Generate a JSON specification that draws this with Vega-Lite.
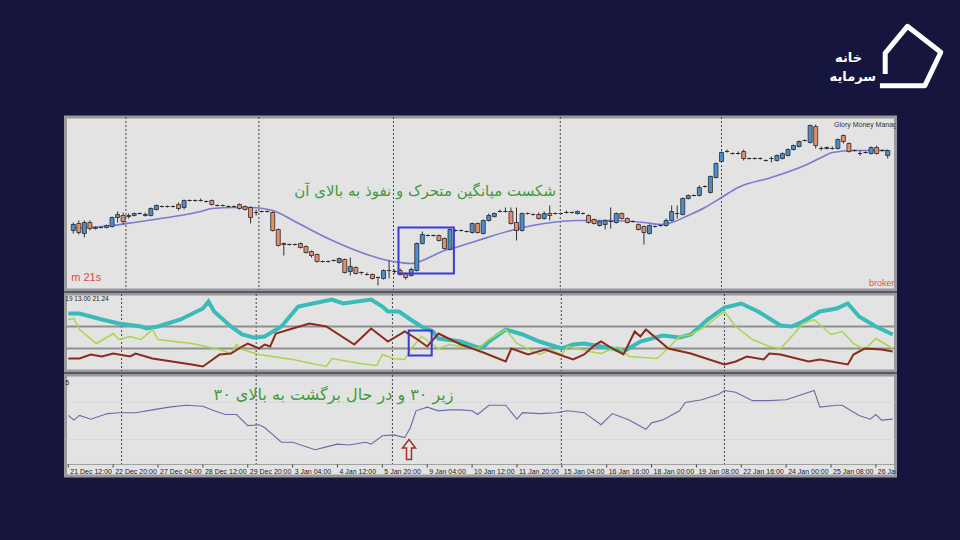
{
  "$schema": "https://vega.github.io/schema/vega-lite/v6.json",
  "background": "#15153d",
  "padding": {"left": 63.5, "top": 20, "right": 40, "bottom": 80},
  "config": {"view": {"stroke": null}},
  "datasets": {
    "candles": [
      {"i":0,"o":60,"c":66,"h":68,"l":57},{"i":1,"o":67,"c":58,"h":70,"l":56},{"i":2,"o":57,"c":68,"h":70,"l":53},{"i":3,"o":68,"c":62,"h":70,"l":60},
      {"i":4,"o":63,"c":62,"h":64,"l":61},{"i":5,"o":63,"c":63,"h":64,"l":62},{"i":6,"o":63,"c":65,"h":66,"l":62},{"i":7,"o":64,"c":73,"h":74,"l":63},
      {"i":8,"o":73,"c":76,"h":79,"l":68},{"i":9,"o":75,"c":69,"h":78,"l":66},{"i":10,"o":74,"c":75,"h":77,"l":72},{"i":11,"o":75,"c":77,"h":78,"l":74},
      {"i":12,"o":77,"c":77,"h":78,"l":76},{"i":13,"o":75,"c":76,"h":78,"l":74},{"i":14,"o":75,"c":82,"h":83,"l":74},{"i":15,"o":81,"c":85,"h":86,"l":80},
      {"i":16,"o":84,"c":84,"h":85,"l":83},{"i":17,"o":84,"c":84,"h":85,"l":83},{"i":18,"o":84,"c":84,"h":85,"l":83},{"i":19,"o":86,"c":82,"h":88,"l":80},
      {"i":20,"o":83,"c":90,"h":91,"l":81},{"i":21,"o":90,"c":90,"h":91,"l":89},{"i":22,"o":90,"c":90,"h":91,"l":89},{"i":23,"o":90,"c":90,"h":92,"l":89},
      {"i":24,"o":89,"c":89,"h":90,"l":88},{"i":25,"o":90,"c":86,"h":91,"l":85},{"i":26,"o":85,"c":85,"h":86,"l":84},{"i":27,"o":85,"c":85,"h":86,"l":84},
      {"i":28,"o":84,"c":84,"h":85,"l":83},{"i":29,"o":84,"c":84,"h":85,"l":83},{"i":30,"o":86,"c":82,"h":87,"l":81},{"i":31,"o":84,"c":81,"h":85,"l":80},
      {"i":32,"o":83,"c":73,"h":84,"l":67},{"i":33,"o":78,"c":78,"h":81,"l":75},{"i":34,"o":79,"c":79,"h":80,"l":78},{"i":35,"o":79,"c":79,"h":80,"l":78},
      {"i":36,"o":78,"c":60,"h":79,"l":59},{"i":37,"o":61,"c":45,"h":62,"l":44},{"i":38,"o":47,"c":46,"h":48,"l":35},{"i":39,"o":46,"c":46,"h":47,"l":45},
      {"i":40,"o":46,"c":46,"h":47,"l":45},{"i":41,"o":47,"c":43,"h":48,"l":42},{"i":42,"o":44,"c":38,"h":45,"l":37},{"i":43,"o":39,"c":35,"h":40,"l":33},
      {"i":44,"o":36,"c":29,"h":37,"l":28},{"i":45,"o":29,"c":29,"h":30,"l":28},{"i":46,"o":29,"c":29,"h":30,"l":28},{"i":47,"o":30,"c":30,"h":31,"l":29},
      {"i":48,"o":28,"c":32,"h":33,"l":27},{"i":49,"o":31,"c":18,"h":32,"l":17},{"i":50,"o":19,"c":24,"h":33,"l":15},{"i":51,"o":23,"c":17,"h":24,"l":16},
      {"i":52,"o":18,"c":18,"h":19,"l":16},{"i":53,"o":16,"c":16,"h":18,"l":15},{"i":54,"o":16,"c":12,"h":17,"l":11},{"i":55,"o":13,"c":13,"h":14,"l":5},
      {"i":56,"o":12,"c":20,"h":21,"l":11},{"i":57,"o":20,"c":20,"h":30,"l":12},{"i":58,"o":19,"c":19,"h":21,"l":17},{"i":59,"o":20,"c":16,"h":22,"l":15},
      {"i":60,"o":17,"c":13,"h":18,"l":11},{"i":61,"o":15,"c":21,"h":23,"l":14},{"i":62,"o":20,"c":47,"h":48,"l":19},{"i":63,"o":47,"c":56,"h":59,"l":46},
      {"i":64,"o":55,"c":55,"h":56,"l":54},{"i":65,"o":55,"c":55,"h":56,"l":54},{"i":66,"o":55,"c":50,"h":56,"l":49},{"i":67,"o":52,"c":42,"h":53,"l":41},
      {"i":68,"o":41,"c":61,"h":62,"l":40},{"i":69,"o":60,"c":60,"h":61,"l":59},{"i":70,"o":60,"c":60,"h":61,"l":59},{"i":71,"o":59,"c":59,"h":60,"l":58},
      {"i":72,"o":58,"c":67,"h":68,"l":57},{"i":73,"o":67,"c":58,"h":68,"l":57},{"i":74,"o":57,"c":70,"h":71,"l":56},{"i":75,"o":70,"c":75,"h":77,"l":69},
      {"i":76,"o":74,"c":77,"h":78,"l":73},{"i":77,"o":79,"c":79,"h":81,"l":78},{"i":78,"o":79,"c":79,"h":83,"l":78},{"i":79,"o":79,"c":67,"h":83,"l":66},
      {"i":80,"o":68,"c":60,"h":83,"l":50},{"i":81,"o":60,"c":77,"h":78,"l":59},{"i":82,"o":77,"c":77,"h":78,"l":76},{"i":83,"o":76,"c":76,"h":77,"l":75},
      {"i":84,"o":76,"c":72,"h":78,"l":71},{"i":85,"o":72,"c":77,"h":79,"l":71},{"i":86,"o":77,"c":75,"h":85,"l":70},{"i":87,"o":77,"c":77,"h":78,"l":76},
      {"i":88,"o":77,"c":77,"h":78,"l":76},{"i":89,"o":78,"c":78,"h":80,"l":77},{"i":90,"o":78,"c":78,"h":79,"l":77},{"i":91,"o":77,"c":79,"h":80,"l":76},
      {"i":92,"o":77,"c":77,"h":78,"l":76},{"i":93,"o":75,"c":68,"h":76,"l":67},{"i":94,"o":71,"c":67,"h":72,"l":66},{"i":95,"o":65,"c":69,"h":70,"l":64},
      {"i":96,"o":66,"c":70,"h":71,"l":61},{"i":97,"o":69,"c":69,"h":83,"l":62},{"i":98,"o":68,"c":77,"h":78,"l":67},{"i":99,"o":77,"c":72,"h":78,"l":71},
      {"i":100,"o":72,"c":68,"h":73,"l":67},{"i":101,"o":69,"c":69,"h":70,"l":68},{"i":102,"o":66,"c":61,"h":67,"l":60},{"i":103,"o":64,"c":58,"h":65,"l":46},
      {"i":104,"o":57,"c":65,"h":66,"l":56},{"i":105,"o":64,"c":64,"h":65,"l":63},{"i":106,"o":65,"c":65,"h":66,"l":64},{"i":107,"o":65,"c":70,"h":72,"l":64},
      {"i":108,"o":70,"c":79,"h":85,"l":69},{"i":109,"o":77,"c":77,"h":85,"l":72},{"i":110,"o":76,"c":92,"h":93,"l":75},{"i":111,"o":92,"c":95,"h":96,"l":91},
      {"i":112,"o":95,"c":95,"h":96,"l":94},{"i":113,"o":95,"c":103,"h":105,"l":94},{"i":114,"o":104,"c":104,"h":105,"l":103},{"i":115,"o":98,"c":114,"h":115,"l":97},
      {"i":116,"o":113,"c":127,"h":128,"l":112},{"i":117,"o":129,"c":138,"h":139,"l":128},{"i":118,"o":139,"c":139,"h":141,"l":138},{"i":119,"o":137,"c":137,"h":138,"l":136},
      {"i":120,"o":137,"c":137,"h":139,"l":136},{"i":121,"o":139,"c":132,"h":141,"l":130},{"i":122,"o":132,"c":132,"h":133,"l":131},{"i":123,"o":132,"c":132,"h":133,"l":131},
      {"i":124,"o":132,"c":132,"h":133,"l":131},{"i":125,"o":130,"c":130,"h":131,"l":129},{"i":126,"o":132,"c":132,"h":134,"l":128},{"i":127,"o":130,"c":135,"h":136,"l":129},
      {"i":128,"o":132,"c":137,"h":138,"l":131},{"i":129,"o":135,"c":141,"h":142,"l":134},{"i":130,"o":141,"c":145,"h":146,"l":140},{"i":131,"o":144,"c":149,"h":150,"l":143},
      {"i":132,"o":150,"c":150,"h":151,"l":149},{"i":133,"o":148,"c":165,"h":166,"l":147},{"i":134,"o":164,"c":145,"h":166,"l":142},{"i":135,"o":142,"c":142,"h":144,"l":140},
      {"i":136,"o":142,"c":143,"h":144,"l":141},{"i":137,"o":142,"c":142,"h":144,"l":141},{"i":138,"o":142,"c":151,"h":152,"l":141},{"i":139,"o":155,"c":149,"h":156,"l":147},
      {"i":140,"o":147,"c":139,"h":148,"l":138},{"i":141,"o":140,"c":140,"h":141,"l":139},{"i":142,"o":137,"c":137,"h":140,"l":135},{"i":143,"o":138,"c":138,"h":139,"l":137},
      {"i":144,"o":137,"c":143,"h":144,"l":136},{"i":145,"o":143,"c":137,"h":145,"l":136},{"i":146,"o":140,"c":140,"h":141,"l":139},{"i":147,"o":135,"c":140,"h":141,"l":132}
    ],
    "ma": [
      {"i":0,"v":62},{"i":7,"v":65},{"i":11,"v":68},{"i":17,"v":73},{"i":23,"v":79},{"i":25,"v":82},{"i":29,"v":83},{"i":32,"v":83},{"i":36,"v":80},
      {"i":40,"v":69},{"i":46,"v":52},{"i":52,"v":38},{"i":56,"v":31},{"i":59,"v":28},{"i":61,"v":27},{"i":63,"v":30},{"i":65,"v":35},{"i":67,"v":40},
      {"i":69,"v":43},{"i":73,"v":50},{"i":79,"v":60},{"i":85,"v":67},{"i":91,"v":70},{"i":97,"v":70},{"i":103,"v":68},{"i":106,"v":66},{"i":108,"v":68},
      {"i":111,"v":75},{"i":114,"v":83},{"i":117,"v":93},{"i":120,"v":103},{"i":126,"v":113},{"i":132,"v":125},{"i":135,"v":133},{"i":137,"v":138},
      {"i":141,"v":140},{"i":147,"v":140}
    ],
    "teal": [
      {"i":0,"v":58},{"i":2,"v":58},{"i":6,"v":52},{"i":9,"v":48},{"i":13,"v":45},{"i":14,"v":43},{"i":16,"v":45},{"i":20,"v":52},{"i":24,"v":63},
      {"i":25,"v":70},{"i":26,"v":60},{"i":29,"v":45},{"i":31,"v":37},{"i":33,"v":34},{"i":35,"v":35},{"i":38,"v":45},{"i":41,"v":65},{"i":47,"v":72},
      {"i":49,"v":68},{"i":54,"v":72},{"i":56,"v":65},{"i":57,"v":60},{"i":59,"v":60},{"i":61,"v":52},{"i":63,"v":45},{"i":65,"v":40},{"i":66,"v":33},
      {"i":70,"v":30},{"i":73,"v":24},{"i":74,"v":24},{"i":75,"v":30},{"i":78,"v":42},{"i":81,"v":37},{"i":84,"v":30},{"i":88,"v":23},{"i":90,"v":27},
      {"i":92,"v":28},{"i":95,"v":25},{"i":97,"v":23},{"i":99,"v":20},{"i":102,"v":30},{"i":106,"v":36},{"i":109,"v":34},{"i":111,"v":37},{"i":114,"v":52},
      {"i":117,"v":64},{"i":120,"v":68},{"i":123,"v":60},{"i":127,"v":46},{"i":129,"v":45},{"i":131,"v":50},{"i":134,"v":60},{"i":137,"v":63},{"i":139,"v":68},
      {"i":141,"v":55},{"i":144,"v":45},{"i":147,"v":37}
    ],
    "green": [
      {"i":0,"v":52},{"i":1,"v":53},{"i":2,"v":42},{"i":5,"v":28},{"i":8,"v":38},{"i":9,"v":32},{"i":11,"v":35},{"i":13,"v":32},{"i":15,"v":42},{"i":16,"v":32},
      {"i":22,"v":28},{"i":27,"v":22},{"i":29,"v":18},{"i":30,"v":27},{"i":31,"v":22},{"i":34,"v":17},{"i":40,"v":12},{"i":46,"v":5},{"i":47,"v":13},{"i":52,"v":8},
      {"i":55,"v":6},{"i":56,"v":17},{"i":58,"v":13},{"i":60,"v":12},{"i":61,"v":22},{"i":63,"v":35},{"i":65,"v":27},{"i":66,"v":23},{"i":68,"v":27},{"i":70,"v":25},
      {"i":73,"v":23},{"i":75,"v":32},{"i":78,"v":42},{"i":80,"v":28},{"i":84,"v":17},{"i":86,"v":22},{"i":88,"v":17},{"i":89,"v":25},{"i":93,"v":20},{"i":95,"v":18},
      {"i":98,"v":25},{"i":100,"v":15},{"i":105,"v":13},{"i":106,"v":18},{"i":109,"v":35},{"i":111,"v":37},{"i":113,"v":43},{"i":117,"v":60},{"i":119,"v":45},
      {"i":122,"v":32},{"i":125,"v":25},{"i":127,"v":23},{"i":129,"v":35},{"i":131,"v":48},{"i":133,"v":52},{"i":136,"v":37},{"i":138,"v":40},{"i":140,"v":28},
      {"i":142,"v":22},{"i":144,"v":33},{"i":147,"v":23}
    ],
    "red": [
      {"i":0,"v":13},{"i":2,"v":13},{"i":4,"v":17},{"i":6,"v":15},{"i":8,"v":18},{"i":11,"v":15},{"i":12,"v":18},{"i":15,"v":13},{"i":22,"v":7},{"i":24,"v":5},
      {"i":27,"v":17},{"i":29,"v":18},{"i":31,"v":25},{"i":32,"v":28},{"i":34,"v":23},{"i":35,"v":27},{"i":36,"v":25},{"i":37,"v":38},{"i":40,"v":43},{"i":43,"v":48},
      {"i":46,"v":45},{"i":51,"v":27},{"i":54,"v":43},{"i":57,"v":30},{"i":60,"v":40},{"i":62,"v":33},{"i":64,"v":25},{"i":66,"v":38},{"i":70,"v":27},{"i":74,"v":19},
      {"i":78,"v":10},{"i":79,"v":23},{"i":82,"v":17},{"i":85,"v":22},{"i":90,"v":12},{"i":92,"v":17},{"i":94,"v":27},{"i":95,"v":30},{"i":97,"v":23},{"i":99,"v":17},
      {"i":101,"v":40},{"i":102,"v":35},{"i":103,"v":42},{"i":107,"v":23},{"i":111,"v":18},{"i":117,"v":7},{"i":119,"v":10},{"i":121,"v":15},{"i":124,"v":12},
      {"i":125,"v":18},{"i":127,"v":17},{"i":132,"v":10},{"i":134,"v":12},{"i":139,"v":7},{"i":140,"v":17},{"i":142,"v":23},{"i":145,"v":22},{"i":147,"v":20}
    ],
    "rsi": [
      {"i":0,"v":56},{"i":1,"v":51},{"i":2,"v":56},{"i":4,"v":52},{"i":7,"v":58},{"i":9,"v":59},{"i":12,"v":59},{"i":15,"v":62},{"i":18,"v":65},{"i":21,"v":67},
      {"i":24,"v":66},{"i":26,"v":61},{"i":28,"v":57},{"i":30,"v":57},{"i":32,"v":45},{"i":34,"v":46},{"i":35,"v":43},{"i":38,"v":27},{"i":40,"v":27},{"i":44,"v":19},
      {"i":46,"v":22},{"i":48,"v":25},{"i":50,"v":24},{"i":53,"v":27},{"i":54,"v":25},{"i":56,"v":34},{"i":58,"v":35},{"i":60,"v":32},{"i":61,"v":43},{"i":62,"v":61},
      {"i":64,"v":65},{"i":66,"v":61},{"i":68,"v":62},{"i":70,"v":62},{"i":72,"v":61},{"i":73,"v":57},{"i":75,"v":67},{"i":78,"v":67},{"i":80,"v":52},{"i":81,"v":59},
      {"i":84,"v":58},{"i":87,"v":59},{"i":89,"v":61},{"i":92,"v":59},{"i":95,"v":46},{"i":97,"v":58},{"i":100,"v":51},{"i":103,"v":41},{"i":104,"v":48},{"i":106,"v":51},
      {"i":109,"v":61},{"i":110,"v":70},{"i":113,"v":73},{"i":116,"v":79},{"i":117,"v":83},{"i":119,"v":81},{"i":122,"v":72},{"i":125,"v":72},{"i":128,"v":73},
      {"i":133,"v":83},{"i":134,"v":65},{"i":137,"v":67},{"i":138,"v":67},{"i":141,"v":56},{"i":143,"v":52},{"i":144,"v":57},{"i":145,"v":51},{"i":147,"v":52}
    ],
    "seps": [{"i":9.5},{"i":33.5},{"i":57.8},{"i":87.9},{"i":117}],
    "ticks": [
      {"i":0,"t":"21 Dec 12:00"},{"i":8,"t":"22 Dec 20:00"},{"i":16,"t":"27 Dec 04:00"},{"i":24,"t":"28 Dec 12:00"},{"i":32,"t":"29 Dec 20:00"},
      {"i":40,"t":"3 Jan 04:00"},{"i":48,"t":"4 Jan 12:00"},{"i":56,"t":"5 Jan 20:00"},{"i":64,"t":"9 Jan 04:00"},{"i":72,"t":"10 Jan 12:00"},
      {"i":80,"t":"11 Jan 20:00"},{"i":88,"t":"15 Jan 04:00"},{"i":96,"t":"16 Jan 16:00"},{"i":104,"t":"18 Jan 00:00"},{"i":112,"t":"19 Jan 08:00"},
      {"i":120,"t":"22 Jan 16:00"},{"i":128,"t":"24 Jan 00:00"},{"i":136,"t":"25 Jan 08:00"},{"i":144,"t":"26 Jan 16:00"}
    ]
  },
  "vconcat": [
    {
      "width": 870,
      "height": 75,
      "layer": [
        {
          "data": {"values": [{"x": 0.9, "y": 0.49, "t": "خانه"}, {"x": 0.905, "y": 0.24, "t": "سرمایه"}]},
          "mark": {"type": "text", "font": "DejaVu Sans", "fontWeight": "bold", "fontSize": 13, "color": "#ffffff", "align": "center", "baseline": "middle"},
          "encoding": {
            "x": {"field": "x", "type": "quantitative", "scale": {"domain": [0, 1], "nice": false, "zero": false}, "axis": null},
            "y": {"field": "y", "type": "quantitative", "scale": {"domain": [0, 1], "nice": false, "zero": false}, "axis": null},
            "text": {"field": "t"}
          }
        },
        {
          "data": {"values": [{"x": 0.972, "y": 0.52}]},
          "mark": {"type": "point", "shape": "M-0.83,0.58 L-0.83,-0.09 L-0.12,-0.95 L0.95,-0.12 L0.44,0.95 L-1,0.95", "size": 3900, "filled": false, "stroke": "#ffffff", "strokeWidth": 5, "opacity": 1, "strokeJoin": "round", "strokeCap": "butt"},
          "encoding": {
            "x": {"field": "x", "type": "quantitative", "scale": {"domain": [0, 1], "nice": false, "zero": false}, "axis": null},
            "y": {"field": "y", "type": "quantitative", "scale": {"domain": [0, 1], "nice": false, "zero": false}, "axis": null}
          }
        }
      ]
    },
    {
      "spacing": 0,
      "vconcat": [
        {
          "width": 830,
          "height": 173,
          "view": {"fill": "#e3e3e3", "stroke": "#9a9a9a", "strokeWidth": 3},
          "layer": [
            {
              "data": {"name": "seps"},
              "mark": {"type": "rule", "color": "#444444", "strokeDash": [2, 2], "strokeWidth": 1, "clip": true},
              "encoding": {"x": {"field": "i", "type": "quantitative", "scale": {"domain": [-0.5, 147.5], "nice": false, "zero": false}, "axis": null}}
            },
            {
              "data": {"name": "ma"},
              "mark": {"type": "line", "color": "#7a7ad0", "strokeWidth": 1.6, "interpolate": "monotone", "clip": true},
              "encoding": {
                "x": {"field": "i", "type": "quantitative", "scale": {"domain": [-0.5, 147.5], "nice": false, "zero": false}, "axis": null},
                "y": {"field": "v", "type": "quantitative", "scale": {"domain": [0.5, 173.5], "nice": false, "zero": false}, "axis": null}
              }
            },
            {
              "data": {"name": "candles"},
              "mark": {"type": "rule", "color": "#333333", "strokeWidth": 1, "clip": true},
              "encoding": {
                "x": {"field": "i", "type": "quantitative", "scale": {"domain": [-0.5, 147.5], "nice": false, "zero": false}, "axis": null},
                "y": {"field": "l", "type": "quantitative", "scale": {"domain": [0.5, 173.5], "nice": false, "zero": false}, "axis": null},
                "y2": {"field": "h"}
              }
            },
            {
              "data": {"name": "candles"},
              "mark": {"type": "bar", "size": 4, "stroke": "#2a2a2a", "strokeWidth": 0.8, "clip": true},
              "encoding": {
                "x": {"field": "i", "type": "quantitative", "scale": {"domain": [-0.5, 147.5], "nice": false, "zero": false}, "axis": null},
                "y": {"field": "o", "type": "quantitative", "scale": {"domain": [0.5, 173.5], "nice": false, "zero": false}, "axis": null},
                "y2": {"field": "c"},
                "color": {"condition": {"test": "datum.c > datum.o", "value": "#4a90d0"}, "value": "#e38f6c"}
              }
            },
            {
              "data": {"values": [{"i": 58.7, "i2": 68.7, "v": 17, "v2": 63}]},
              "mark": {"type": "rect", "filled": false, "stroke": "#3a3ad4", "strokeWidth": 2, "clip": true},
              "encoding": {
                "x": {"field": "i", "type": "quantitative", "scale": {"domain": [-0.5, 147.5], "nice": false, "zero": false}, "axis": null},
                "x2": {"field": "i2"},
                "y": {"field": "v", "type": "quantitative", "scale": {"domain": [0.5, 173.5], "nice": false, "zero": false}, "axis": null},
                "y2": {"field": "v2"}
              }
            },
            {
              "data": {"values": [{"i": 63.5, "v": 100, "t": "شکست میانگین متحرک و نفوذ به بالای آن"}]},
              "mark": {"type": "text", "font": "DejaVu Sans", "fontSize": 15, "color": "#3f9b3f", "align": "center", "baseline": "middle", "clip": true},
              "encoding": {
                "x": {"field": "i", "type": "quantitative", "scale": {"domain": [-0.5, 147.5], "nice": false, "zero": false}, "axis": null},
                "y": {"field": "v", "type": "quantitative", "scale": {"domain": [0.5, 173.5], "nice": false, "zero": false}, "axis": null},
                "text": {"field": "t"}
              }
            },
            {
              "data": {"values": [{"i": 0, "v": 13, "t": "m 21s"}]},
              "mark": {"type": "text", "font": "Liberation Sans", "fontSize": 11, "color": "#e04848", "align": "left", "baseline": "middle", "dx": -2, "clip": true},
              "encoding": {
                "x": {"field": "i", "type": "quantitative", "scale": {"domain": [-0.5, 147.5], "nice": false, "zero": false}, "axis": null},
                "y": {"field": "v", "type": "quantitative", "scale": {"domain": [0.5, 173.5], "nice": false, "zero": false}, "axis": null},
                "text": {"field": "t"}
              }
            },
            {
              "data": {"values": [{"i": 143.6, "v": 8, "t": "broker"}]},
              "mark": {"type": "text", "font": "Liberation Sans", "fontSize": 9, "color": "#e05050", "align": "left", "baseline": "middle", "clip": true},
              "encoding": {
                "x": {"field": "i", "type": "quantitative", "scale": {"domain": [-0.5, 147.5], "nice": false, "zero": false}, "axis": null},
                "y": {"field": "v", "type": "quantitative", "scale": {"domain": [0.5, 173.5], "nice": false, "zero": false}, "axis": null},
                "text": {"field": "t"}
              }
            },
            {
              "data": {"values": [{"i": 137.3, "v": 166, "t": "Glory Money Management"}]},
              "mark": {"type": "text", "font": "Liberation Sans", "fontSize": 7, "color": "#333333", "align": "left", "baseline": "middle", "clip": true},
              "encoding": {
                "x": {"field": "i", "type": "quantitative", "scale": {"domain": [-0.5, 147.5], "nice": false, "zero": false}, "axis": null},
                "y": {"field": "v", "type": "quantitative", "scale": {"domain": [0.5, 173.5], "nice": false, "zero": false}, "axis": null},
                "text": {"field": "t"}
              }
            }
          ]
        },
        {
          "width": 830,
          "height": 77,
          "view": {"fill": "#e3e3e3", "stroke": "#9a9a9a", "strokeWidth": 3},
          "layer": [
            {
              "data": {"name": "seps"},
              "mark": {"type": "rule", "color": "#444444", "strokeDash": [2, 2], "strokeWidth": 1, "clip": true},
              "encoding": {"x": {"field": "i", "type": "quantitative", "scale": {"domain": [-0.5, 147.5], "nice": false, "zero": false}, "axis": null}}
            },
            {
              "data": {"values": [{"v": 45}, {"v": 23}]},
              "mark": {"type": "rule", "color": "#8f8f8f", "strokeWidth": 2, "clip": true},
              "encoding": {"y": {"field": "v", "type": "quantitative", "scale": {"domain": [0.5, 77.5], "nice": false, "zero": false}, "axis": null}}
            },
            {
              "data": {"name": "teal"},
              "mark": {"type": "line", "color": "#3bbaba", "strokeWidth": 4, "clip": true},
              "encoding": {
                "x": {"field": "i", "type": "quantitative", "scale": {"domain": [-0.5, 147.5], "nice": false, "zero": false}, "axis": null},
                "y": {"field": "v", "type": "quantitative", "scale": {"domain": [0.5, 77.5], "nice": false, "zero": false}, "axis": null}
              }
            },
            {
              "data": {"name": "green"},
              "mark": {"type": "line", "color": "#a9d64c", "strokeWidth": 1.5, "clip": true},
              "encoding": {
                "x": {"field": "i", "type": "quantitative", "scale": {"domain": [-0.5, 147.5], "nice": false, "zero": false}, "axis": null},
                "y": {"field": "v", "type": "quantitative", "scale": {"domain": [0.5, 77.5], "nice": false, "zero": false}, "axis": null}
              }
            },
            {
              "data": {"name": "red"},
              "mark": {"type": "line", "color": "#8a2b1c", "strokeWidth": 2, "clip": true},
              "encoding": {
                "x": {"field": "i", "type": "quantitative", "scale": {"domain": [-0.5, 147.5], "nice": false, "zero": false}, "axis": null},
                "y": {"field": "v", "type": "quantitative", "scale": {"domain": [0.5, 77.5], "nice": false, "zero": false}, "axis": null}
              }
            },
            {
              "data": {"values": [{"i": 60.7, "i2": 64.8, "v": 16, "v2": 41}]},
              "mark": {"type": "rect", "filled": false, "stroke": "#3a3ad4", "strokeWidth": 2, "clip": true},
              "encoding": {
                "x": {"field": "i", "type": "quantitative", "scale": {"domain": [-0.5, 147.5], "nice": false, "zero": false}, "axis": null},
                "x2": {"field": "i2"},
                "y": {"field": "v", "type": "quantitative", "scale": {"domain": [0.5, 77.5], "nice": false, "zero": false}, "axis": null},
                "y2": {"field": "v2"}
              }
            },
            {
              "data": {"values": [{"i": 0, "v": 73, "t": "19 13.00 21.24"}]},
              "mark": {"type": "text", "font": "Liberation Sans", "fontSize": 6.5, "color": "#222222", "align": "left", "baseline": "middle", "dx": -3, "clip": true},
              "encoding": {
                "x": {"field": "i", "type": "quantitative", "scale": {"domain": [-0.5, 147.5], "nice": false, "zero": false}, "axis": null},
                "y": {"field": "v", "type": "quantitative", "scale": {"domain": [0.5, 77.5], "nice": false, "zero": false}, "axis": null},
                "text": {"field": "t"}
              }
            }
          ]
        },
        {
          "width": 830,
          "height": 101,
          "view": {"fill": "#e3e3e3", "stroke": "#9a9a9a", "strokeWidth": 3},
          "layer": [
            {
              "data": {"values": [{"v": 70}, {"v": 30}]},
              "mark": {"type": "rule", "color": "#c2c2c2", "strokeDash": [1, 2], "strokeWidth": 1, "clip": true},
              "encoding": {"y": {"field": "v", "type": "quantitative", "scale": {"domain": [-9.46, 99.73], "nice": false, "zero": false}, "axis": null}}
            },
            {
              "data": {"name": "seps"},
              "mark": {"type": "rule", "color": "#444444", "strokeDash": [2, 2], "strokeWidth": 1, "clip": true},
              "encoding": {
                "x": {"field": "i", "type": "quantitative", "scale": {"domain": [-0.5, 147.5], "nice": false, "zero": false}, "axis": null},
                "y": {"datum": 99.73, "type": "quantitative", "scale": {"domain": [-9.46, 99.73], "nice": false, "zero": false}, "axis": null},
                "y2": {"datum": 3}
              }
            },
            {
              "data": {"values": [{"v": 3}]},
              "mark": {"type": "rule", "color": "#a0a0a0", "strokeWidth": 1, "clip": true},
              "encoding": {"y": {"field": "v", "type": "quantitative", "scale": {"domain": [-9.46, 99.73], "nice": false, "zero": false}, "axis": null}}
            },
            {
              "data": {"name": "rsi"},
              "mark": {"type": "line", "color": "#6a6aaa", "strokeWidth": 1.1, "clip": true},
              "encoding": {
                "x": {"field": "i", "type": "quantitative", "scale": {"domain": [-0.5, 147.5], "nice": false, "zero": false}, "axis": null},
                "y": {"field": "v", "type": "quantitative", "scale": {"domain": [-9.46, 99.73], "nice": false, "zero": false}, "axis": null}
              }
            },
            {
              "data": {"values": [{"i": 60.75, "v": 19.2}]},
              "mark": {"type": "point", "shape": "M0,-1 L0.65,-0.15 L0.25,-0.15 L0.25,1 L-0.25,1 L-0.25,-0.15 L-0.65,-0.15 Z", "size": 400, "filled": false, "stroke": "#a03030", "strokeWidth": 1.5, "opacity": 1, "clip": true},
              "encoding": {
                "x": {"field": "i", "type": "quantitative", "scale": {"domain": [-0.5, 147.5], "nice": false, "zero": false}, "axis": null},
                "y": {"field": "v", "type": "quantitative", "scale": {"domain": [-9.46, 99.73], "nice": false, "zero": false}, "axis": null}
              }
            },
            {
              "data": {"values": [{"i": 47.3, "v": 78.6, "t": "زیر ۳۰ و در حال برگشت به بالای ۳۰"}]},
              "mark": {"type": "text", "font": "DejaVu Sans", "fontSize": 16, "color": "#3f9b3f", "align": "center", "baseline": "middle", "clip": true},
              "encoding": {
                "x": {"field": "i", "type": "quantitative", "scale": {"domain": [-0.5, 147.5], "nice": false, "zero": false}, "axis": null},
                "y": {"field": "v", "type": "quantitative", "scale": {"domain": [-9.46, 99.73], "nice": false, "zero": false}, "axis": null},
                "text": {"field": "t"}
              }
            },
            {
              "data": {"values": [{"i": 0, "v": 91.6, "t": "5"}]},
              "mark": {"type": "text", "font": "Liberation Sans", "fontSize": 7, "color": "#222222", "align": "left", "baseline": "middle", "dx": -3, "clip": true},
              "encoding": {
                "x": {"field": "i", "type": "quantitative", "scale": {"domain": [-0.5, 147.5], "nice": false, "zero": false}, "axis": null},
                "y": {"field": "v", "type": "quantitative", "scale": {"domain": [-9.46, 99.73], "nice": false, "zero": false}, "axis": null},
                "text": {"field": "t"}
              }
            },
            {
              "data": {"name": "ticks"},
              "mark": {"type": "rule", "color": "#444444", "strokeWidth": 1, "clip": true},
              "encoding": {
                "x": {"field": "i", "type": "quantitative", "scale": {"domain": [-0.5, 147.5], "nice": false, "zero": false}, "axis": null},
                "y": {"datum": 3, "type": "quantitative", "scale": {"domain": [-9.46, 99.73], "nice": false, "zero": false}, "axis": null},
                "y2": {"datum": -0.3}
              }
            },
            {
              "data": {"name": "ticks"},
              "mark": {"type": "text", "font": "Liberation Sans", "fontSize": 7, "color": "#222222", "align": "left", "baseline": "middle", "dx": 2, "clip": true},
              "encoding": {
                "x": {"field": "i", "type": "quantitative", "scale": {"domain": [-0.5, 147.5], "nice": false, "zero": false}, "axis": null},
                "y": {"datum": -4.6, "type": "quantitative", "scale": {"domain": [-9.46, 99.73], "nice": false, "zero": false}, "axis": null},
                "text": {"field": "t"}
              }
            }
          ]
        }
      ]
    }
  ],
  "spacing": 20
}
